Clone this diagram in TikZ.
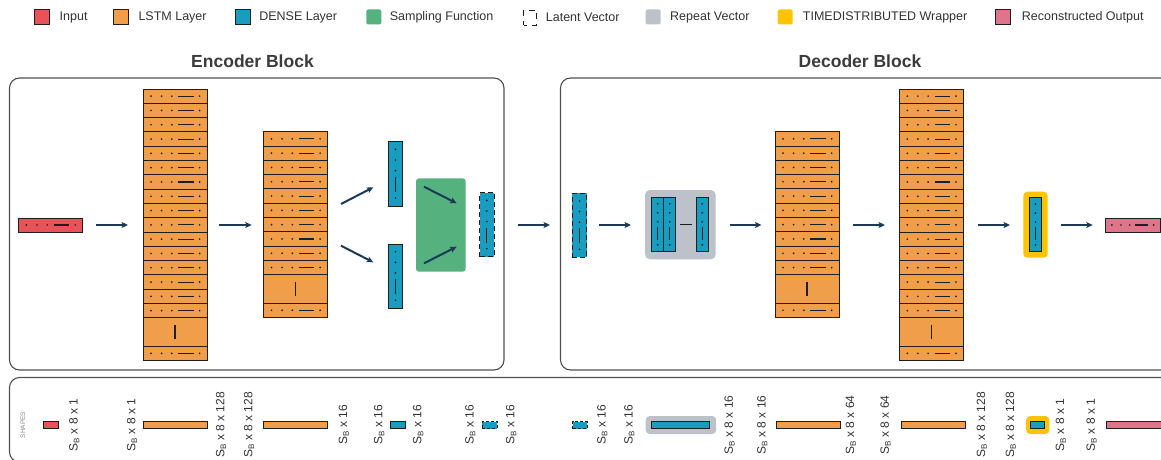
\documentclass[tikz,border=0pt]{standalone}
\usepackage{fontspec}
\setmainfont{Liberation Sans}
\usetikzlibrary{arrows.meta}
\definecolor{cred}{HTML}{E8535A}
\definecolor{corange}{HTML}{F19E4B}
\definecolor{cblue}{HTML}{189CBF}
\definecolor{cgreen}{HTML}{55B27F}
\definecolor{cgrey}{HTML}{BDC1CA}
\definecolor{cyellow}{HTML}{FFC300}
\definecolor{cpink}{HTML}{DF758B}
\definecolor{carrow}{HTML}{1C3A56}
\definecolor{ctext}{HTML}{333333}
\definecolor{ctitle}{HTML}{3B3B3B}
\definecolor{cframe}{HTML}{505050}
\definecolor{cedge}{HTML}{1E1E1E}
\definecolor{cshapes}{HTML}{8A8A8A}

\newcommand\SB{S\textsubscript{B}}
% horizontal dot pattern: x, ytop, w, h
\newcommand\hpat[4]{%
  \foreach \f in {0.125,0.29,0.45,0.885}{\fill[cedge] (#1+\f*#3,#2+0.5*#4) circle (0.95pt);}
  \draw[cedge,line width=1.1] (#1+0.55*#3,#2+0.5*#4) -- (#1+0.79*#3,#2+0.5*#4);}
% vertical dot pattern: x, ytop, w, h
\newcommand\vpat[4]{%
  \foreach \f in {0.12,0.285,0.45,0.875}{\fill[cedge] (#1+0.5*#3,#2+\f*#4) circle (0.95pt);}
  \draw[cedge,line width=1.1] (#1+0.5*#3,#2+0.545*#4) -- (#1+0.5*#3,#2+0.78*#4);}
% LSTM stack: name, x, ytop, nrows
\newcommand\lstm[4]{%
  \foreach \i in {1,...,#4}{%
    \draw[cell] (#2,#3+\i*14.3-14.3) rectangle ++(64,14.3);
    \hpat{#2}{#3+\i*14.3-14.3}{64}{14.3}}
  \draw[cell] (#2,#3+#4*14.3) rectangle ++(64,28.4);
  \draw[cedge,line width=1.1] (#2+32,#3+#4*14.3+7) -- ++(0,14.4);
  \draw[cell] (#2,#3+#4*14.3+28.4) rectangle ++(64,14.3);
  \hpat{#2}{#3+#4*14.3+28.4}{64}{14.3}
  \pgfmathsetmacro\stackh{#4*14.3+42.7}
  \node[anchor=north west,inner sep=0,outer sep=0,minimum width=64pt,minimum height=\stackh pt] (#1) at (#2,#3) {};}
% vertical dense bar: name, x, ytop, w, h, extra style
\newcommand\vbar[6]{%
  \node[bar,#6,minimum width=#4 pt,minimum height=#5 pt] (#1) at (#2,#3) {};
  \vpat{#2}{#3}{#4}{#5}}

\begin{document}
\begin{tikzpicture}[x=1pt,y=-1pt,
  cell/.style={draw=cedge,fill=corange,line width=0.9},
  bar/.style={draw=cedge,fill=cblue,line width=0.9,anchor=north west,inner sep=0,outer sep=0},
  arr/.style={draw=carrow,line width=2,-{Stealth[length=6.5pt,width=6pt,inset=1.5pt]}},
  frame/.style={draw=cframe,line width=1.1,rounded corners=10pt},
  lbl/.style={rotate=90,font=\fontsize{12}{14}\selectfont,text=ctext,inner sep=0},
  legtxt/.style={anchor=west,font=\fontsize{12.5}{15}\selectfont,text=ctext,inner sep=0},
  legsq/.style={anchor=north west,inner sep=0,outer sep=0,minimum width=15pt,minimum height=15pt},
  small/.style={anchor=west,inner sep=0,outer sep=0,minimum height=7pt,draw=cedge,line width=0.9},
  title/.style={font=\bfseries\fontsize{17.5}{20}\selectfont,text=ctitle}]
\useasboundingbox (0,0) rectangle (1161,460);
\fill[white] (0,0) rectangle (1161,460);
\coordinate (mid) at (0,225);

% ---------- legend ----------
\node[legsq,draw=cedge,line width=1.1,fill=cred] (lg1) at (34.5,9.5) {};
\node[legtxt] (lt1) at (59.5,17) {Input};
\node[legsq,draw=cedge,line width=1.1,fill=corange] (lg2) at (113.5,9.5) {};
\node[legtxt] (lt2) at (138.3,17) {LSTM Layer};
\node[legsq,draw=cedge,line width=1.1,fill=cblue] (lg3) at (235.5,9.5) {};
\node[legtxt] (lt3) at (259.1,17) {DENSE Layer};
\node[legsq,fill=cgreen,rounded corners=2pt] (lg4) at (366.3,9.5) {};
\node[legtxt] (lt4) at (389.6,17) {Sampling Function};
\node[legsq,draw=cedge,line width=0.9,dash pattern=on 6pt off 5pt,dash phase=3pt,minimum width=13pt] (lg5) at (523.5,10.5) {};
\node[legtxt] (lt5) at (545.7,17) {Latent Vector};
\node[legsq,fill=cgrey,rounded corners=2pt] (lg6) at (645.7,9.5) {};
\node[legtxt] (lt6) at (670,17) {Repeat Vector};
\node[legsq,fill=cyellow,rounded corners=2pt] (lg7) at (777.7,9.5) {};
\node[legtxt] (lt7) at (802.7,17) {TIMEDISTRIBUTED Wrapper};
\node[legsq,draw=cedge,line width=1.1,fill=cpink] (lg8) at (995.7,9.5) {};
\node[legtxt] (lt8) at (1021.7,17) {Reconstructed Output};

% ---------- frames and titles ----------
\draw[frame] (9.5,78) rectangle (504,370);
\draw[frame] (560.5,78) rectangle (1175,370);
\draw[frame] (9.5,377.5) rectangle (1175,462);
\node[title] (tenc) at (252.5,61) {Encoder Block};
\node[title] (tdec) at (860,61) {Decoder Block};

% ---------- encoder ----------
\node[anchor=north west,inner sep=0,outer sep=0,minimum width=64.4pt,minimum height=14pt,draw=cedge,line width=0.9,fill=cred] (in) at (18.3,218) {};
\hpat{18.3}{218}{64.4}{14}
\lstm{encA}{143}{89}{16}
\lstm{encB}{263.5}{131.7}{10}
\vbar{dU}{388.3}{141.7}{14.4}{64.3}{}
\vbar{dL}{388.3}{244}{14.4}{64.3}{}
\node[anchor=north west,inner sep=0,outer sep=0,minimum width=49.7pt,minimum height=93.4pt,fill=cgreen,rounded corners=3pt] (samp) at (416,178.3) {};
\vbar{latE}{479.5}{192.7}{14.6}{64}{dash pattern=on 5pt off 3pt}

\draw[arr] ([xshift=13.3pt]in.east |- mid) -- ([xshift=-15pt]encA.west |- mid);
\draw[arr] ([xshift=12.3pt]encA.east |- mid) -- ([xshift=-11.8pt]encB.west |- mid);
\coordinate (u1) at (341,204); \coordinate (u2) at (373.3,187.3);
\coordinate (l1) at (341,245.7); \coordinate (l2) at (373.3,262.3);
\coordinate (g1) at (424,186.7); \coordinate (g2) at (456.7,203.3);
\coordinate (g3) at (424,263.3); \coordinate (g4) at (456.7,246.7);
\draw[arr] (u1) -- (u2);
\draw[arr] (l1) -- (l2);
\draw[arr] (g1) -- (g2);
\draw[arr] (g3) -- (g4);

% ---------- decoder ----------
\vbar{latD}{572.3}{193.3}{14.4}{64}{dash pattern=on 5pt off 3pt}
\node[anchor=north west,inner sep=0,outer sep=0,minimum width=70.7pt,minimum height=69.3pt,fill=cgrey,rounded corners=5pt] (rep) at (645,190) {};
\vbar{r1}{651.7}{197.3}{12}{54.4}{}
\vbar{r2}{663.7}{197.3}{12}{54.4}{}
\vbar{r3}{696.2}{197.3}{12}{54.4}{}
\draw[cedge,line width=1.1] ([xshift=4.3pt]r2.east) -- ([xshift=-4pt]r3.west);
\lstm{decA}{775}{131.7}{10}
\lstm{decB}{899.3}{89}{16}
\node[anchor=north west,inner sep=0,outer sep=0,minimum width=24.4pt,minimum height=66pt,fill=cyellow,rounded corners=4pt] (tdw) at (1023.3,191.7) {};
\vbar{tdb}{1029.3}{197.7}{12.4}{54}{}
\node[anchor=north west,inner sep=0,outer sep=0,minimum width=55pt,minimum height=14pt,draw=cedge,line width=0.9,fill=cpink] (out) at (1105,218) {};
\hpat{1105}{218}{55}{14}

\draw[arr] ([xshift=24pt]latE.east |- mid) -- ([xshift=-22.3pt]latD.west |- mid);
\draw[arr] ([xshift=12.3pt]latD.east |- mid) -- ([xshift=-14pt]rep.west |- mid);
\draw[arr] ([xshift=13.8pt]rep.east |- mid) -- ([xshift=-13.5pt]decA.west |- mid);
\draw[arr] ([xshift=14.3pt]decA.east |- mid) -- ([xshift=-14.3pt]decB.west |- mid);
\draw[arr] ([xshift=14.7pt]decB.east |- mid) -- ([xshift=-13.3pt]tdw.west |- mid);
\draw[arr] ([xshift=13.3pt]tdw.east |- mid) -- ([xshift=-12.3pt]out.west |- mid);

% ---------- shapes row ----------
\node[rotate=90,font=\fontsize{6.5}{7}\selectfont,text=cshapes,inner sep=0] (shp) at (23,425) {SHAPES};
\node[small,fill=cred,minimum width=14.9pt] (s1) at (43.5,425) {};
\node[small,fill=corange,minimum width=63.9pt] (s2) at (143.5,425) {};
\node[small,fill=corange,minimum width=64.3pt] (s3) at (263.6,425) {};
\node[small,fill=cblue,minimum width=14.9pt] (s4) at (390.3,425) {};
\node[small,fill=cblue,minimum width=14.8pt,dash pattern=on 3pt off 2pt] (s5) at (482.2,425) {};
\node[small,fill=cblue,minimum width=14.3pt,dash pattern=on 3pt off 2pt] (s6) at (572.7,425) {};
\node[anchor=west,inner sep=0,minimum width=70.5pt,minimum height=18pt,fill=cgrey,rounded corners=4pt] (s7) at (645.5,425) {};
\node[small,fill=cblue,minimum width=57.8pt] (s7b) at (651.7,425) {};
\node[small,fill=corange,minimum width=63.9pt] (s8) at (776.5,425) {};
\node[small,fill=corange,minimum width=64.6pt] (s9) at (901,425) {};
\node[anchor=west,inner sep=0,minimum width=23.2pt,minimum height=18pt,fill=cyellow,rounded corners=4pt] (s10) at (1026,425) {};
\node[small,fill=cblue,minimum width=13.9pt] (s10b) at (1030.7,425) {};
\node[small,fill=cpink,minimum width=60pt] (s11) at (1106,425) {};

\foreach \x/\t [count=\k] in {
  74.3/{\SB{} x 8 x 1}, 132/{\SB{} x 8 x 1},
  221/{\SB{} x 8 x 128}, 249/{\SB{} x 8 x 128},
  343.9/{\SB{} x 16}, 379.2/{\SB{} x 16}, 418.2/{\SB{} x 16},
  470.3/{\SB{} x 16}, 511.2/{\SB{} x 16},
  602.4/{\SB{} x 16}, 629.3/{\SB{} x 16},
  729.5/{\SB{} x 8 x 16}, 762.2/{\SB{} x 8 x 16},
  850.8/{\SB{} x 8 x 64}, 885.5/{\SB{} x 8 x 64},
  981.8/{\SB{} x 8 x 128}, 1010.7/{\SB{} x 8 x 128},
  1060.8/{\SB{} x 8 x 1}, 1091.6/{\SB{} x 8 x 1}}
  {\node[lbl] (lab\k) at (\x,425) {\t};}
\end{tikzpicture}
\end{document}
